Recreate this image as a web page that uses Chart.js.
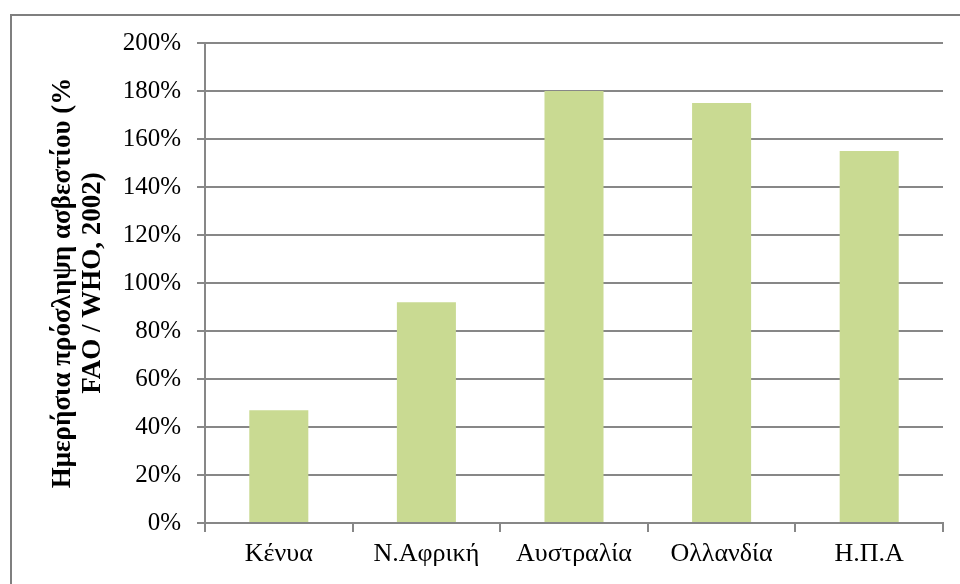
<!DOCTYPE html>
<html>
<head>
<meta charset="utf-8">
<style>
  html, body { margin: 0; padding: 0; background: #ffffff; }
  #wrap { position: relative; width: 960px; height: 584px; }
</style>
<script src="https://cdn.jsdelivr.net/npm/chart.js@4.4.1/dist/chart.umd.min.js"></script>
</head>
<body>
<div id="wrap"><canvas id="chart" width="960" height="584"></canvas></div>
<script>
// Daily calcium intake as a share of the FAO/WHO (2002) recommendation
const countries = ['Κένυα', 'Ν.Αφρική', 'Αυστραλία', 'Ολλανδία', 'Η.Π.Α'];
const intakePercent = [47, 92, 180, 175, 155];
const yTitleLines = ['Ημερήσια πρόσληψη ασβεστίου (%', 'FAO / WHO, 2002)'];

const gridGray = '#878787';
const serif = '"Liberation Serif", "Times New Roman", serif';

// Grey frame around the whole chart
const framePlugin = {
  id: 'frame',
  beforeDraw(chart) {
    const ctx = chart.ctx;
    ctx.save();
    ctx.fillStyle = '#ffffff';
    ctx.fillRect(0, 0, chart.width, chart.height);
    ctx.strokeStyle = '#7f7f7f';
    ctx.lineWidth = 2;
    ctx.strokeRect(11, 15, chart.width + 20, chart.height + 20);
    ctx.restore();
  }
};

new Chart(document.getElementById('chart'), {
  type: 'bar',
  data: {
    labels: countries,
    datasets: [{
      data: intakePercent,
      backgroundColor: '#c9da92',
      borderWidth: 0,
      barPercentage: 0.4,
      categoryPercentage: 1.0
    }]
  },
  options: {
    responsive: false,
    animation: false,
    devicePixelRatio: 1,
    layout: { padding: { top: 43, right: 17, bottom: 0, left: 0 } },
    plugins: {
      legend: { display: false },
      tooltip: { enabled: false }
    },
    scales: {
      x: {
        grid: {
          display: true,
          drawOnChartArea: false,
          drawTicks: true,
          tickLength: 9,
          color: gridGray,
          lineWidth: 2,
          offset: true
        },
        border: { display: true, color: gridGray, width: 2 },
        ticks: {
          color: '#000000',
          padding: 7,
          font: { family: serif, size: 26, lineHeight: 1.2 }
        },
        afterFit(scale) { scale.height = 61; }
      },
      y: {
        min: 0,
        max: 200,
        ticks: {
          stepSize: 20,
          color: '#000000',
          padding: 16,
          font: { family: serif, size: 25 },
          callback: (v) => v + '%'
        },
        grid: {
          color: gridGray,
          lineWidth: 2,
          tickLength: 8
        },
        border: { display: true, color: gridGray, width: 2 },
        title: {
          display: true,
          text: yTitleLines,
          color: '#000000',
          padding: { top: 48, bottom: 0 },
          font: { family: serif, size: 27, weight: 'bold', lineHeight: 1.11 }
        },
        afterFit(scale) { scale.width = 205; }
      }
    }
  },
  plugins: [framePlugin]
});
</script>
</body>
</html>
